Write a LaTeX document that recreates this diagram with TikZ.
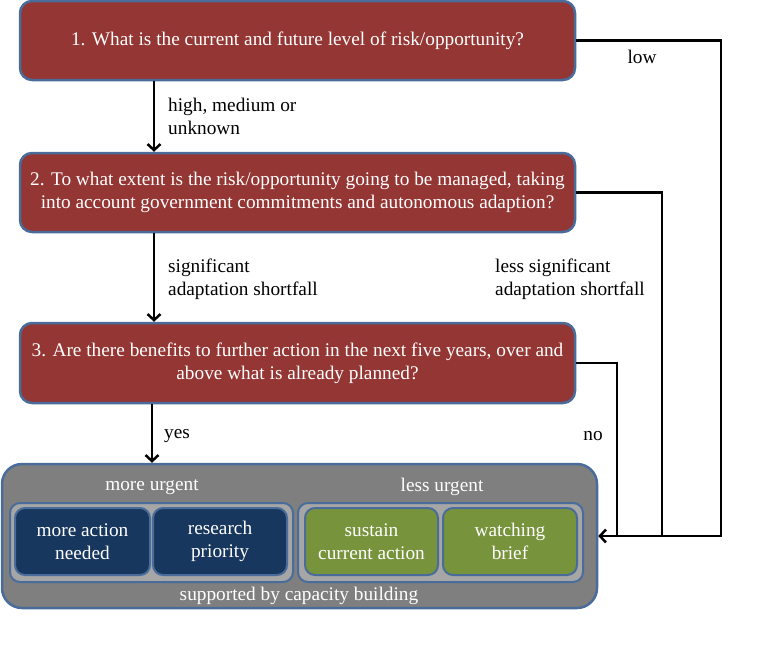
\documentclass[tikz,border=0pt]{standalone}
\usepackage{fontspec}
\setmainfont{Liberation Serif}
\newfontfamily\qf{Liberation Serif}
\usetikzlibrary{arrows.meta,positioning}
\definecolor{qred}{HTML}{943634}
\definecolor{qborder}{HTML}{4A6C9B}
\definecolor{panelgray}{HTML}{7F7F7F}
\definecolor{groupgray}{HTML}{A6A6A6}
\definecolor{navy}{HTML}{17375E}
\definecolor{olive}{HTML}{77933C}
\begin{document}
\begin{tikzpicture}[x=1pt,y=-1pt,
  every node/.style={font=\qf\fontsize{19.3}{23}\selectfont},
  question/.style={draw=qborder, line width=2.5pt, fill=qred, text=white, rounded corners=12pt,
     minimum width=555pt, align=center, inner sep=0pt},
  panelbox/.style={draw=qborder, line width=2.5pt, fill=panelgray, rounded corners=20pt,
     minimum width=595pt, minimum height=144pt, inner sep=0pt},
  groupbox/.style={draw=qborder, line width=2pt, fill=groupgray, rounded corners=10pt,
     minimum height=79pt, inner sep=0pt},
  leafbox/.style={draw=qborder, line width=2pt, rounded corners=10pt, text=white,
     minimum height=67pt, align=center, inner sep=0pt},
  lbl/.style={align=left, inner sep=0pt, text=black},
  flow/.style={line width=2.5pt, -{Straight Barb[length=6pt,width=13pt,line width=2.5pt]}},
  plain/.style={line width=2.5pt}
]
\useasboundingbox (0,0) rectangle (767,651);

% question boxes
\node[question, minimum height=79pt] (q1) at (297.5,40.5)
  {1. What is the current and future level of risk/opportunity?};
\node[question, minimum height=79pt] (q2) at (297.5,192.5)
  {2. To what extent is the risk/opportunity going to be managed, taking\\into account government commitments and autonomous adaption?};
\node[question, minimum height=80pt] (q3) at (297.5,363)
  {3. Are there benefits to further action in the next five years, over and\\above what is already planned?};

% outcome panel
\node[panelbox] (panel) at (299.5,536) {};
\node[groupbox, minimum width=283pt] (gleft) at (151.5,542.5) {};
\node[groupbox, minimum width=285pt] (gright) at (440.5,542.5) {};
\node[leafbox, fill=navy, minimum width=135pt] (more) at (82.5,541.5) {more action\\needed};
\node[leafbox, fill=navy, minimum width=134pt] (research) at (220,541.5) {research\\priority};
\node[leafbox, fill=olive, minimum width=133pt] (sustain) at (371.5,541.5) {sustain\\current action};
\node[leafbox, fill=olive, minimum width=134pt] (watch) at (510,541.5) {watching\\brief};
\node[text=white, inner sep=0pt] (moreurg) at (152,487) {more urgent};
\node[text=white, inner sep=0pt] (lessurg) at (442,487) {less urgent};
\node[text=white, inner sep=0pt] (capacity) at (299,596) {supported by capacity building};

% vertical flow
\draw[flow] (q1.south -| 154,0) -- (q2.north -| 154,0);
\draw[flow] (q2.south -| 154,0) -- (q3.north -| 154,0);
\draw[flow] (q3.south -| 152,0) -- (panel.north -| 152,0);

% right-hand returns
\coordinate (c1) at (721,40.5);
\coordinate (c2) at (662,192.5);
\coordinate (c3) at (617,363);
\coordinate (m1) at (721,536);
\coordinate (m2) at (662,536);
\coordinate (m3) at (617,536);
\draw[plain, line join=miter] (q1.east) -- (c1) -- (m1) -- (m2);
\draw[plain, line join=miter] (q2.east) -- (c2) -- (m2);
\draw[plain, line join=miter] (q3.east) -- (c3) -- (m3);
\draw[flow] (m2) -- (panel.east);

% labels
\node[lbl, anchor=west] (l1) at (168,116.5) {high, medium or\\unknown};
\node[lbl, anchor=west] (l2) at (168,279) {significant\\adaptation shortfall};
\node[lbl, anchor=west] (l3) at (495,279) {less significant\\adaptation shortfall};
\node[lbl, anchor=west] (l4) at (164,436) {yes};
\node[lbl] (l5) at (593,436) {no};
\node[lbl] (l6) at (642,57) {low};
\end{tikzpicture}
\end{document}
